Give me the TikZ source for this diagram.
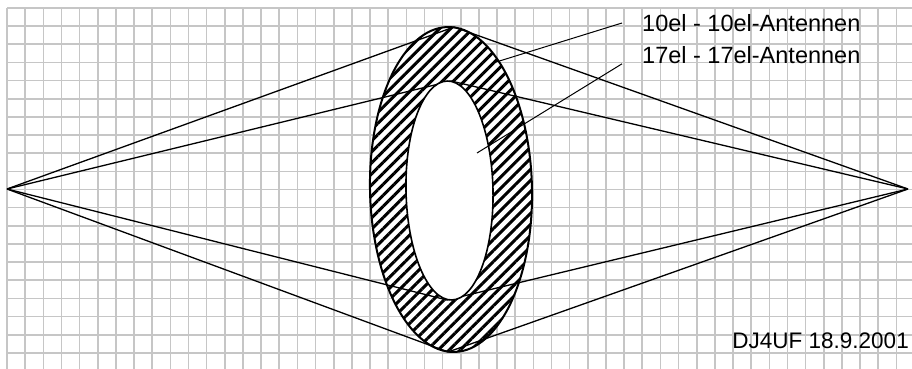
\documentclass[tikz,border=0pt]{standalone}
\usepackage{fontspec}
\setmainfont{Liberation Sans}
\usetikzlibrary{patterns.meta}

\begin{document}
\begin{tikzpicture}[x=1pt, y=-1pt,
    gridline/.style={draw=gray!45, line width=1.6pt},
    ray/.style={draw, line width=1.3pt},
    ring/.style={draw, line width=2pt, fill=white, postaction={pattern={Lines[angle=45, distance=7.8pt, line width=3pt]}}},
    hole/.style={draw, line width=1.6pt, fill=white},
    lbl/.style={font=\fontsize{23.5}{26}\selectfont, inner xsep=20pt, inner ysep=0pt, anchor=west},
    leader/.style={draw, line width=1pt}
]
\useasboundingbox (0,0) rectangle (912,369);

% grid
\foreach \i in {0,...,49}
    \draw [gridline] ({7+18.15*\i},8) -- ({7+18.15*\i},369);
\foreach \j in {0,...,19}
    \draw [gridline] (7,{8+18.15*\j}) -- (912,{8+18.15*\j});

\coordinate (L) at (7,189);
\coordinate (R) at (908,189);
\coordinate (ot) at (454,27);
\coordinate (ob) at (448,352);
\coordinate (it) at (451,81);
\coordinate (ib) at (447,300);

% outer ring
\path [ring] (451,189.5) ellipse [x radius=81, y radius=162.5, rotate=1.2];

\path [ray] (L) -- (ot) -- (R);
\path [ray] (L) -- (ob) -- (R);
\path [ray] (L) -- (it) -- (R);
\path [ray] (L) -- (ib) -- (R);

% inner hole
\path [hole] (449.5,190.5) ellipse [x radius=43.5, y radius=109.5, rotate=1.2];

\node [lbl] (lab10) at (622,23) {10el - 10el-Antennen};
\node [lbl] (lab17) at (622,55) {17el - 17el-Antennen};
\node [lbl, inner xsep=0pt, anchor=east, font=\fontsize{22.5}{26}\selectfont] (sig) at (909,341) {DJ4UF 18.9.2001};

\coordinate (p10) at (493,63);
\coordinate (p17) at (477,153);
\path [leader] (p10) -- (lab10.west);
\path [leader] (p17) -- (lab17.south west);
\end{tikzpicture}
\end{document}
